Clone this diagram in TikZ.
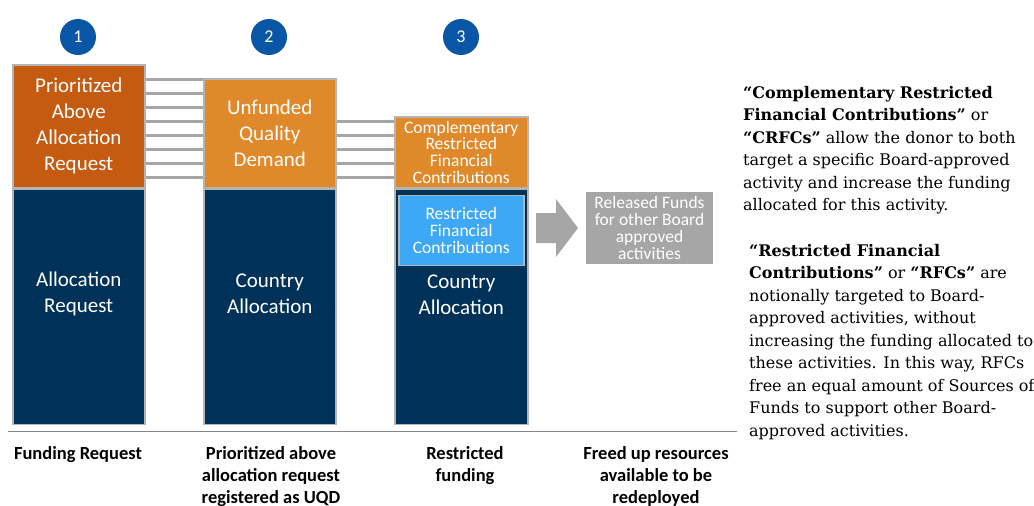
\documentclass[tikz,border=0pt]{standalone}
\usepackage{fontspec}
\setmainfont{Carlito}
\newfontfamily\notefont{DejaVu Serif}
\usepackage{xcolor}
\usepackage{tikz}
\usetikzlibrary{positioning}
\definecolor{dotblue}{HTML}{0A56A6}
\definecolor{rustorange}{HTML}{C55A11}
\definecolor{midorange}{HTML}{E0892A}
\definecolor{barnavy}{HTML}{003158}
\definecolor{skyblue}{HTML}{3DA8F5}
\definecolor{linkgray}{HTML}{A6A6A6}
\definecolor{edgegray}{HTML}{B4B4B4}
\tikzstyle{numdot} = [circle, 
fill=dotblue, 
minimum size=36pt, 
inner sep=0pt, 
text=white, 
font=\fontsize{18}{18}\selectfont]
\tikzstyle{topbar} = [rectangle, 
draw=edgegray, 
line width=1.5pt, 
inner sep=0pt, 
text=white, 
align=center, 
font=\fontsize{21}{26}\selectfont]
\tikzstyle{navybar} = [rectangle, 
draw=edgegray, 
line width=1.5pt, 
fill=barnavy, 
inner sep=0pt]
\tikzstyle{bartext} = [text=white, 
align=center, 
inner sep=0pt, 
font=\fontsize{21}{26}\selectfont]
\tikzstyle{smallbox} = [rectangle, 
draw=edgegray, 
line width=1.5pt, 
inner sep=0pt, 
text=white, 
align=center, 
font=\fontsize{17.5}{16.8}\selectfont]
\tikzstyle{link} = [draw=linkgray, line width=3.5pt]
\tikzstyle{steplabel} = [align=center, 
anchor=north, 
inner sep=0pt, 
font=\bfseries\fontsize{18.5}{22}\selectfont]
\tikzstyle{note} = [align=left, 
anchor=north west, 
inner sep=0pt, 
font=\notefont\fontsize{16}{22.5}\selectfont]

\begin{document}
\begin{tikzpicture}[x=1pt, y=-1pt]
\useasboundingbox (0,0) rectangle (1034,506);

% step numbers
\node (num1) [numdot] at (78,37) {1};
\node (num2) [numdot] at (269,37) {2};
\node (num3) [numdot] at (461,37) {3};

% links behind the bars
\coordinate (left1) at (144,0);
\coordinate (left2) at (335,0);
\foreach \y in {79.3,93.3,107.3,121.3,135.3,149.3,163.3,177.6}
  \draw [link] (left1 |- 0,\y) -- (203,\y);
\foreach \y in {121.3,135.3,149.3,163.3,177.6}
  \draw [link] (left2 |- 0,\y) -- (394,\y);

% column 1
\node (above1) [topbar, fill=rustorange, minimum width=132pt, minimum height=123pt, anchor=north west] at (12,64) {Prioritized\\Above\\Allocation\\Request};
\node (alloc1) [navybar, minimum width=132pt, minimum height=235pt, below=0pt of above1] {};
\node (alloc1txt) [bartext] at ([yshift=-105pt]alloc1.north) {Allocation\\Request};

% column 2
\node (uqd2) [topbar, fill=midorange, minimum width=132pt, minimum height=109pt, anchor=north west] at (203,78) {Unfunded\\Quality\\Demand};
\node (alloc2) [navybar, minimum width=132pt, minimum height=235pt, below=0pt of uqd2] {};
\node (alloc2txt) [bartext] at ([yshift=-105pt]alloc2.north) {Country\\Allocation};

% column 3
\node (crfc3) [smallbox, fill=midorange, minimum width=133pt, minimum height=71pt, anchor=north west] at (394,116) {Complementary\\Restricted\\Financial\\Contributions};
\node (alloc3) [navybar, minimum width=133pt, minimum height=235pt, below=0pt of crfc3] {};
\node (rfc3) [smallbox, fill=skyblue, minimum width=125pt, minimum height=70pt, anchor=north] at ([yshift=-6pt]alloc3.north) {Restricted\\Financial\\Contributions};
\node (alloc3txt) [bartext] at ([yshift=-106pt]alloc3.north) {Country\\Allocation};

% released funds
\fill [linkgray] (536,213) -- (556,213) -- (556,199) -- (578,228) -- (556,257) -- (556,243) -- (536,243) -- cycle;
\node (released) [smallbox, fill=linkgray, draw=linkgray, minimum width=125pt, minimum height=70pt] at (649.5,228) {Released Funds\\for other Board\\approved\\activities};

% baseline and step labels
\draw [linkgray!80!black, line width=1pt] (8,431.5) -- (737,431.5);
\node (lab1) [steplabel] at (78,446) {Funding Request};
\node (lab2) [steplabel] at (271,446) {Prioritized above\\allocation request\\registered as UQD};
\node (lab3) [steplabel] at (465,446) {Restricted\\funding};
\node (lab4) [steplabel] at (656,446) {Freed up resources\\available to be\\redeployed};

% definitions on the right
\node (crfcnote) [note] at (743,86) {\textbf{“Complementary Restricted}\\\textbf{Financial Contributions”} or\\\textbf{“CRFCs”} allow the donor to both\\target a specific Board-approved\\activity and increase the funding\\allocated for this activity.};
\node (rfcnote) [note] at (749,244) {\textbf{“Restricted Financial}\\\textbf{Contributions”} or \textbf{“RFCs”} are\\notionally targeted to Board-\\approved activities, without\\increasing the funding allocated to\\these activities. In this way, RFCs\\free an equal amount of Sources of\\Funds to support other Board-\\approved activities.};

\end{tikzpicture}
\end{document}
